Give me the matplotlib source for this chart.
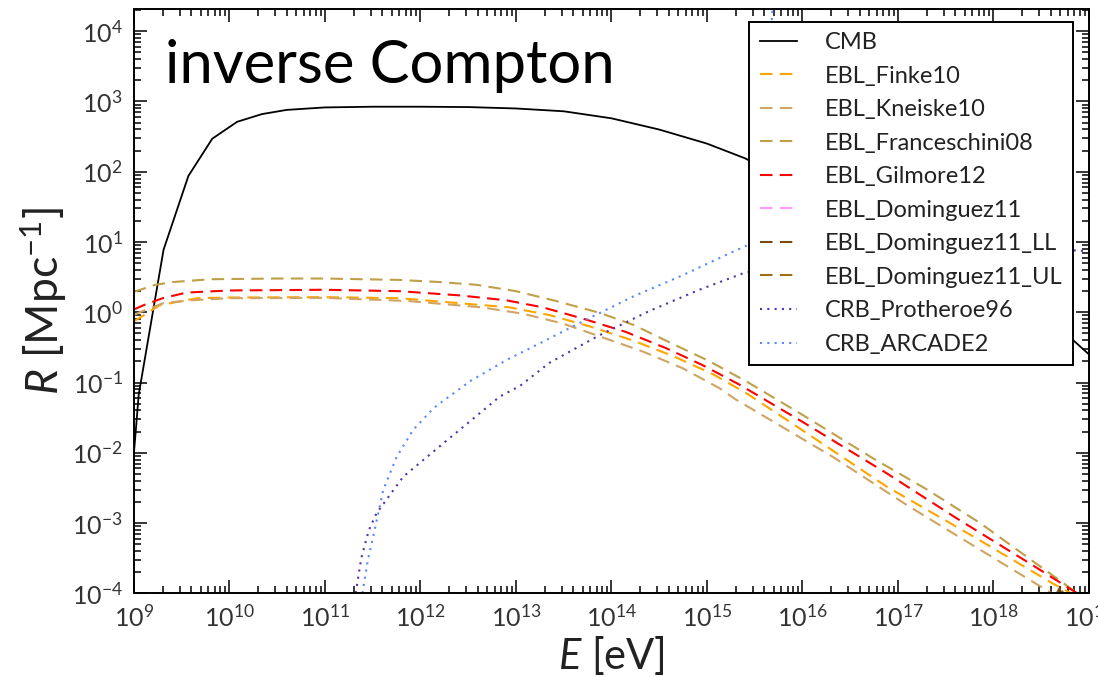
import numpy as np
import matplotlib
matplotlib.use("Agg")
import matplotlib.pyplot as plt

plt.rcParams['font.family'] = ['Lato', 'DejaVu Sans']
plt.rcParams['mathtext.fontset'] = 'custom'
plt.rcParams['mathtext.rm'] = 'Lato'
plt.rcParams['mathtext.it'] = 'Lato:italic'
plt.rcParams['mathtext.bf'] = 'Lato:bold'

# log10(E/eV) and log10(R/Mpc^-1)
cmb_e = [9.0, 9.05, 9.31, 9.57, 9.82, 10.08, 10.34, 10.6, 11.0, 11.5, 12.0, 12.5, 13.0,
         13.5, 14.0, 14.5, 15.0, 15.4, 16.0, 17.0, 18.0, 18.82, 19.0]
cmb_r = [-2.0, -1.17, 0.89, 1.94, 2.47, 2.71, 2.82, 2.88, 2.915, 2.925, 2.925, 2.92, 2.90,
         2.86, 2.76, 2.60, 2.40, 2.19, 1.75, 1.0, 0.25, -0.38, -0.6]

finke_e = [9.0, 9.27, 9.66, 10.0, 11.0, 11.78, 12.31, 12.93, 13.35, 13.77, 14.22, 14.64,
           15.06, 15.41, 16.0, 16.88, 17.8, 18.62, 18.95]
finke_r = [-0.13, 0.10, 0.20, 0.21, 0.215, 0.20, 0.14, 0.07, -0.04, -0.20, -0.40, -0.62,
           -0.88, -1.15, -1.68, -2.48, -3.2, -3.86, -4.1]

kneiske_e = [9.0, 9.06, 9.31, 9.59, 10.0, 11.0, 11.87, 12.64, 13.07, 13.49, 13.87, 14.33,
             14.75, 15.13, 15.3, 16.32, 17.1, 17.92, 18.55, 18.8]
kneiske_r = [-0.04, 0.0, 0.13, 0.17, 0.20, 0.205, 0.16, 0.07, -0.02, -0.16, -0.34, -0.56,
             -0.80, -1.08, -1.24, -2.06, -2.75, -3.43, -3.95, -4.15]

frances_e = [9.0, 9.22, 9.41, 9.8, 10.5, 11.0, 11.78, 12.2, 12.59, 13.0, 13.42, 13.88,
             14.23, 14.64, 15.03, 15.42, 16.0, 16.74, 17.3, 17.86, 18.4, 18.9]
frances_r = [0.29, 0.39, 0.43, 0.47, 0.48, 0.48, 0.46, 0.43, 0.39, 0.30, 0.16, -0.01,
             -0.18, -0.45, -0.70, -0.99, -1.46, -2.08, -2.52, -3.0, -3.53, -4.02]

gilmore_e = [9.0, 9.1, 9.3, 9.55, 10.0, 11.0, 11.78, 12.41, 12.9, 13.28, 13.7, 14.15,
             14.57, 14.95, 15.34, 16.0, 16.88, 17.6, 18.41, 18.9]
gilmore_r = [0.04, 0.10, 0.20, 0.28, 0.31, 0.32, 0.30, 0.24, 0.17, 0.07, -0.09, -0.28,
             -0.51, -0.75, -1.03, -1.56, -2.29, -2.92, -3.6, -4.02]

dom_e = [18.6, 18.7, 18.8]
dom_r = [-4.6, -4.4, -4.6]
dom_ll_e = [18.55, 18.69, 18.8]
dom_ll_r = [-4.3, -3.93, -4.3]
dom_ul_e = [18.6, 18.72, 18.85]
dom_ul_r = [-4.3, -3.97, -4.3]

proth_e = [11.31, 11.38, 11.46, 11.54, 11.82, 12.2, 12.52, 12.83, 13.04, 13.35, 13.87,
           14.4, 14.92, 15.37, 16.0, 17.0, 18.0, 18.85, 19.0]
proth_r = [-4.1, -3.5, -3.1, -2.86, -2.34, -1.91, -1.55, -1.2, -1.05, -0.72, -0.33,
           0.02, 0.32, 0.55, 0.75, 0.9, 0.92, 0.88, 0.87]

arcade_e = [11.38, 11.45, 11.52, 11.61, 11.75, 11.92, 12.14, 12.52, 12.9, 13.18, 13.7,
            14.22, 14.75, 15.27, 15.5, 15.62, 15.7]
arcade_r = [-4.1, -3.52, -3.10, -2.53, -2.06, -1.68, -1.36, -0.98, -0.68, -0.49, -0.13,
            0.22, 0.53, 0.86, 1.0, 3.0, 4.6]

dash = (0, (6, 3.5))
dot = (0, (1, 2.5))
series = [
    ("CMB", cmb_e, cmb_r, "black", "-", 1.3),
    ("EBL_Finke10", finke_e, finke_r, "#FFA500", dash, 1.5),
    ("EBL_Kneiske10", kneiske_e, kneiske_r, "#D0A464", dash, 1.5),
    ("EBL_Franceschini08", frances_e, frances_r, "#BFA048", dash, 1.5),
    ("EBL_Gilmore12", gilmore_e, gilmore_r, "red", dash, 1.5),
    ("EBL_Dominguez11", dom_e, dom_r, "#FF99FF", dash, 1.5),
    ("EBL_Dominguez11_LL", dom_ll_e, dom_ll_r, "#7B4A12", dash, 1.5),
    ("EBL_Dominguez11_UL", dom_ul_e, dom_ul_r, "#A0700F", dash, 1.5),
    ("CRB_Protheroe96", proth_e, proth_r, "#5533AA", dot, 1.5),
    ("CRB_ARCADE2", arcade_e, arcade_r, "#5A87FF", dot, 1.5),
]

fig = plt.figure(figsize=(10.98, 6.77), dpi=100)
ax = fig.add_axes([0.122, 0.1236, 0.8698, 0.8627])

for name, e, r, c, ls, lw in series:
    ax.plot(10**np.array(e), 10**np.array(r), color=c, linestyle=ls, lw=lw, label=name)

ax.set_xscale("log")
ax.set_yscale("log")
ax.set_xlim(1e9, 1e19)
ax.set_ylim(1e-4, 2.05e4)
ax.xaxis.set_major_locator(matplotlib.ticker.LogLocator(base=10, numticks=20))
ax.yaxis.set_major_locator(matplotlib.ticker.LogLocator(base=10, numticks=20))
ax.xaxis.set_minor_locator(matplotlib.ticker.LogLocator(base=10, subs=np.arange(2, 10), numticks=20))
ax.yaxis.set_minor_locator(matplotlib.ticker.LogLocator(base=10, subs=np.arange(2, 10), numticks=20))
ax.xaxis.set_minor_formatter(matplotlib.ticker.NullFormatter())
ax.yaxis.set_minor_formatter(matplotlib.ticker.NullFormatter())

ax.tick_params(which="both", direction="in", top=True, right=True, width=1.1, labelsize=18, colors="black")
ax.tick_params(which="major", length=9.5, pad=8)
ax.tick_params(which="minor", length=5)
ax.tick_params(axis="both", which="major", labelcolor="#333333")
for s in ax.spines.values():
    s.set_linewidth(1.4)

ax.set_xlabel(r"$E$ [eV]", fontsize=30, color="#222222", labelpad=2)
ax.set_ylabel(r"$R$ [Mpc$^{-1}$]", fontsize=32, color="#222222", labelpad=2)

ax.text(0.032, 0.874, "inverse Compton", transform=ax.transAxes, fontsize=43,
        ha="left", va="baseline", color="black")

leg = ax.legend(loc="upper right", bbox_to_anchor=(0.983, 0.979), fontsize=17,
                frameon=True, fancybox=False, handlelength=1.6, handletextpad=1.15,
                labelspacing=0.53, borderpad=0.45, borderaxespad=0)
leg.get_frame().set_edgecolor("black")
leg.get_frame().set_linewidth(1.4)
leg.get_frame().set_alpha(1)
for t in leg.get_texts():
    t.set_color("#222222")

fig.savefig("out.png", dpi=100)
